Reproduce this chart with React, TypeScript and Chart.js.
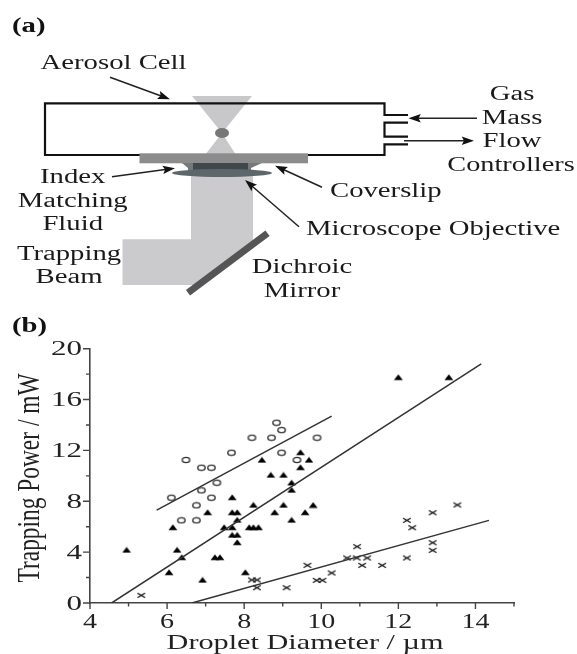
import React, { useEffect, useRef } from "react";
import Chart from "chart.js/auto";

const circleX = [6.11, 6.49, 6.89, 7.15, 7.29, 6.89, 7.15, 6.76, 6.37, 6.76, 7.67, 8.2, 8.71, 8.84, 8.97, 8.97, 9.37, 9.89];
const circleY = [8.28, 11.25, 10.64, 10.64, 9.46, 8.86, 8.28, 7.68, 6.5, 6.5, 11.82, 13.0, 13.0, 14.18, 13.6, 11.82, 11.25, 13.0];
const triangleX = [4.95, 6.15, 6.26, 6.38, 6.05, 6.92, 7.05, 7.24, 7.37, 7.48, 7.69, 7.69, 7.82, 7.69, 7.69, 7.82, 7.82, 7.82, 8.03, 8.13, 8.24, 8.37, 8.24, 8.46, 8.69, 9.02, 8.79, 9.02, 9.23, 9.23, 9.23, 9.46, 9.46, 9.68, 9.58, 9.79, 12.0, 13.31];
const triangleY = [4.17, 5.95, 4.17, 3.59, 2.41, 1.81, 7.13, 3.59, 3.59, 5.95, 5.95, 7.13, 7.13, 8.31, 5.35, 5.35, 6.53, 4.77, 2.41, 5.95, 5.95, 5.95, 7.71, 11.25, 10.07, 10.07, 7.13, 7.71, 9.46, 8.89, 6.53, 11.85, 10.67, 11.25, 7.13, 7.7, 17.75, 17.75];
const crossX = [5.33, 8.2, 8.33, 8.33, 9.1, 9.64, 9.88, 10.03, 10.27, 10.67, 10.93, 10.92, 11.19, 11.06, 11.58, 12.22, 12.36, 12.22, 12.89, 12.89, 12.89, 13.53];
const crossY = [0.6, 1.81, 1.81, 1.2, 1.2, 2.96, 1.78, 1.78, 2.36, 3.54, 4.43, 3.54, 3.54, 2.96, 2.96, 6.5, 5.92, 3.54, 7.1, 4.74, 4.14, 7.71];
const circleFitX = [5.73, 10.27];
const circleFitY = [7.31, 14.7];
const triangleFitX = [4.56, 14.15];
const triangleFitY = [0, 18.8];
const crossFitX = [6.64, 14.35];
const crossFitY = [0, 6.5];
const xMajorTicks = [4, 6, 8, 10, 12, 14];
const xMinorTicks = [5, 7, 9, 11, 13, 15];
const yMajorTicks = [0, 4, 8, 12, 16, 20];
const yMinorTicks = [2, 6, 10, 14, 18];
const xTitle = "Droplet Diameter / µm";
const yTitle = "Trapping Power / mW";

const zip = (xs: number[], ys: number[]) => xs.map((x, i) => ({ x, y: ys[i] }));
const SERIF = '"Liberation Serif"';

function sprite(w: number, h: number, draw: (c: CanvasRenderingContext2D) => void) {
  const cv = document.createElement("canvas");
  cv.width = w;
  cv.height = h;
  draw(cv.getContext("2d") as CanvasRenderingContext2D);
  return cv;
}

function text(
  c: CanvasRenderingContext2D, s: string, x: number, y: number,
  size: number, sx: number, align: CanvasTextAlign = "left", bold = false, color = "#1a1a1a"
) {
  c.save();
  c.translate(x, y);
  c.scale(sx, 1);
  c.font = `${bold ? "bold " : ""}${size}px ${SERIF}`;
  c.fillStyle = color;
  c.textAlign = align;
  c.textBaseline = "alphabetic";
  c.fillText(s, 0, 0);
  c.restore();
}

function arrow(c: CanvasRenderingContext2D, x0: number, y0: number, x1: number, y1: number) {
  c.strokeStyle = "#222";
  c.fillStyle = "#111";
  c.lineWidth = 1.5;
  const a = Math.atan2(y1 - y0, x1 - x0);
  c.beginPath();
  c.moveTo(x0, y0);
  c.lineTo(x1 - 8 * Math.cos(a), y1 - 8 * Math.sin(a));
  c.stroke();
  c.beginPath();
  c.moveTo(x1, y1);
  c.lineTo(x1 - 13 * Math.cos(a - 0.33), y1 - 13 * Math.sin(a - 0.33));
  c.lineTo(x1 - 10 * Math.cos(a), y1 - 10 * Math.sin(a));
  c.lineTo(x1 - 13 * Math.cos(a + 0.33), y1 - 13 * Math.sin(a + 0.33));
  c.closePath();
  c.fill();
}

function poly(c: CanvasRenderingContext2D, pts: number[][], fill: string) {
  c.fillStyle = fill;
  c.beginPath();
  pts.forEach((p, i) => (i ? c.lineTo(p[0], p[1]) : c.moveTo(p[0], p[1])));
  c.closePath();
  c.fill();
}

function drawSchematic(c: CanvasRenderingContext2D) {
  c.save();
  // trapping beam
  poly(c, [[191, 176], [253, 176], [253, 245], [198, 285], [122.5, 285], [122.5, 239.3], [191, 239.3]], "#cbcbcd");
  // focused cone
  poly(c, [[192, 96], [252, 96], [222, 133]], "#c8c8ca");
  poly(c, [[222, 133], [205, 155], [236, 155]], "#c8c8ca");
  // cell wall
  c.strokeStyle = "#111";
  c.lineWidth = 2.2;
  c.beginPath();
  c.moveTo(408, 115);
  c.lineTo(384.5, 115);
  c.lineTo(384.5, 103.3);
  c.lineTo(45, 103.3);
  c.lineTo(45, 155);
  c.lineTo(140, 155);
  c.moveTo(306, 155);
  c.lineTo(384.5, 155);
  c.lineTo(384.5, 144.3);
  c.lineTo(408, 144.3);
  c.moveTo(408, 136.7);
  c.lineTo(384.5, 136.7);
  c.lineTo(384.5, 122.7);
  c.lineTo(408, 122.7);
  c.stroke();
  // droplet
  c.fillStyle = "#777";
  c.beginPath();
  c.ellipse(222, 133, 7, 5, 0, 0, Math.PI * 2);
  c.fill();
  // coverslip
  c.fillStyle = "#8c8c8c";
  c.fillRect(139.5, 153.3, 168.5, 10);
  // index matching fluid and objective
  poly(c, [[182, 163], [262, 163], [251, 168], [251, 172], [188, 172], [188, 168]], "#75797c");
  c.fillStyle = "#3f484c";
  c.fillRect(193, 163, 55, 7);
  c.fillStyle = "#5d666a";
  c.beginPath();
  c.ellipse(222, 173, 50, 4, 0, 0, Math.PI * 2);
  c.fill();
  // dichroic mirror
  c.strokeStyle = "#555";
  c.lineWidth = 7;
  c.beginPath();
  c.moveTo(267.5, 233.3);
  c.lineTo(188, 292.7);
  c.stroke();
  // arrows
  arrow(c, 110, 77.3, 170, 99.3);
  arrow(c, 477, 118.3, 408.5, 118.3);
  arrow(c, 404, 140.7, 474, 140.7);
  arrow(c, 112, 176.7, 175, 168.3);
  arrow(c, 322, 187.3, 275, 165.7);
  arrow(c, 299, 226.7, 245, 180);
  // labels
  const fs = 20.5;
  const sx = 1.4;
  text(c, "(a)", 12, 32.3, 20.5, 1.4, "left", true, "#111");
  text(c, "Aerosol Cell", 40.6, 69.3, fs, sx);
  text(c, "Gas", 512, 100, fs, sx, "center");
  text(c, "Mass", 512, 124, fs, sx, "center");
  text(c, "Flow", 512, 147.3, fs, sx, "center");
  text(c, "Controllers", 511, 170.7, fs, 1.38, "center");
  text(c, "Index", 72.7, 182.7, fs, sx, "center");
  text(c, "Matching", 72.7, 206.7, fs, sx, "center");
  text(c, "Fluid", 72.7, 230, fs, sx, "center");
  text(c, "Trapping", 69, 260, fs, sx, "center");
  text(c, "Beam", 69, 283.3, fs, sx, "center");
  text(c, "Coverslip", 330, 196.7, fs, sx);
  text(c, "Microscope Objective", 306, 235, fs, sx);
  text(c, "Dichroic", 302, 273.3, fs, sx, "center");
  text(c, "Mirror", 302, 296.7, fs, sx, "center");
  text(c, "(b)", 12, 332, 20.5, 1.4, "left", true, "#111");
  c.restore();
}

const decorPlugin = {
  id: "decor",
  beforeDraw(chart: any) {
    const c = chart.ctx as CanvasRenderingContext2D;
    c.save();
    c.fillStyle = "#fff";
    c.fillRect(0, 0, chart.width, chart.height);
    c.restore();
    drawSchematic(c);
  },
  afterDraw(chart: any) {
    const c = chart.ctx as CanvasRenderingContext2D;
    const xs = chart.scales.x;
    const ys = chart.scales.y;
    const bottom = chart.chartArea.bottom;
    const left = chart.chartArea.left;
    c.save();
    c.strokeStyle = "#444";
    c.lineWidth = 1.4;
    c.beginPath();
    xMajorTicks.forEach((v) => { const p = xs.getPixelForValue(v); c.moveTo(p, bottom); c.lineTo(p, bottom + 6); });
    xMinorTicks.forEach((v) => { const p = xs.getPixelForValue(v); c.moveTo(p, bottom); c.lineTo(p, bottom + 3.5); });
    yMajorTicks.forEach((v) => { const p = ys.getPixelForValue(v); c.moveTo(left, p); c.lineTo(left - 7, p); });
    yMinorTicks.forEach((v) => { const p = ys.getPixelForValue(v); c.moveTo(left, p); c.lineTo(left - 4, p); });
    c.stroke();
    xMajorTicks.forEach((v) => text(c, String(v), xs.getPixelForValue(v), 628, 20, 1.4, "center", false, "#222"));
    yMajorTicks.forEach((v) => text(c, String(v), left - 8, ys.getPixelForValue(v) + 6.5, 20, 1.55, "right", false, "#222"));
    text(c, xTitle, 305, 649, 21, 1.44, "center", false, "#222");
    c.translate(39, 478);
    c.scale(1.35, 1);
    c.rotate(-Math.PI / 2);
    c.font = `23.4px ${SERIF}`;
    c.fillStyle = "#222";
    c.textAlign = "center";
    c.textBaseline = "alphabetic";
    c.fillText(yTitle, 0, 0);
    c.restore();
  },
};

export default function App() {
  const ref = useRef<HTMLCanvasElement>(null);
  useEffect(() => {
    const circle = sprite(11, 8, (c) => {
      c.strokeStyle = "#333";
      c.lineWidth = 1.4;
      c.beginPath();
      c.ellipse(5.5, 4, 3.7, 2.6, 0, 0, Math.PI * 2);
      c.stroke();
    });
    const tri = sprite(10, 7, (c) => {
      c.fillStyle = "#000";
      c.beginPath();
      c.moveTo(5, 0.4);
      c.lineTo(9.4, 6.2);
      c.lineTo(0.6, 6.2);
      c.closePath();
      c.fill();
    });
    const cross = sprite(10, 7, (c) => {
      c.strokeStyle = "#111";
      c.lineWidth = 1.3;
      c.beginPath();
      c.moveTo(1.2, 1.2);
      c.lineTo(8.8, 5.8);
      c.moveTo(8.8, 1.2);
      c.lineTo(1.2, 5.8);
      c.stroke();
    });
    const fit = (label: string, data: { x: number; y: number }[]) => ({
      label, data, showLine: true, pointRadius: 0, borderColor: "#333", borderWidth: 1.5, fill: false,
    });
    const pts = (label: string, data: { x: number; y: number }[], style: HTMLCanvasElement) => ({
      label, data, showLine: false, pointStyle: style as any, pointRadius: 4,
    });
    const chart = new Chart(ref.current as HTMLCanvasElement, {
      type: "scatter",
      data: {
        datasets: [
          fit("Circles fit", zip(circleFitX, circleFitY)),
          fit("Triangles fit", zip(triangleFitX, triangleFitY)),
          fit("Crosses fit", zip(crossFitX, crossFitY)),
          pts("Circles", zip(circleX, circleY), circle),
          pts("Triangles", zip(triangleX, triangleY), tri),
          pts("Crosses", zip(crossX, crossY), cross),
        ] as any,
      },
      options: {
        animation: false,
        responsive: false,
        layout: { padding: { left: 0, top: 348.7, right: 63, bottom: 0 } },
        plugins: { legend: { display: false }, tooltip: { enabled: false } },
        scales: {
          x: {
            type: "linear", min: 4, max: 15,
            grid: { display: false },
            border: { display: true, color: "#444", width: 1.6 },
            ticks: { display: false, stepSize: 1 },
            afterFit: (s: any) => { s.height = 51; },
          },
          y: {
            type: "linear", min: 0, max: 20,
            grid: { display: false },
            border: { display: true, color: "#444", width: 1.6 },
            ticks: { display: false, stepSize: 2 },
            afterFit: (s: any) => { s.width = 90; },
          },
        },
      },
      plugins: [decorPlugin as any],
    });
    return () => chart.destroy();
  }, []);
  return (
    <div>
      <canvas
        ref={ref}
        width={577}
        height={654}
        style={{ position: "fixed", left: 0, top: 0, width: 577, height: 654, display: "block", filter: "blur(0.45px)" }}
      />
    </div>
  );
}
